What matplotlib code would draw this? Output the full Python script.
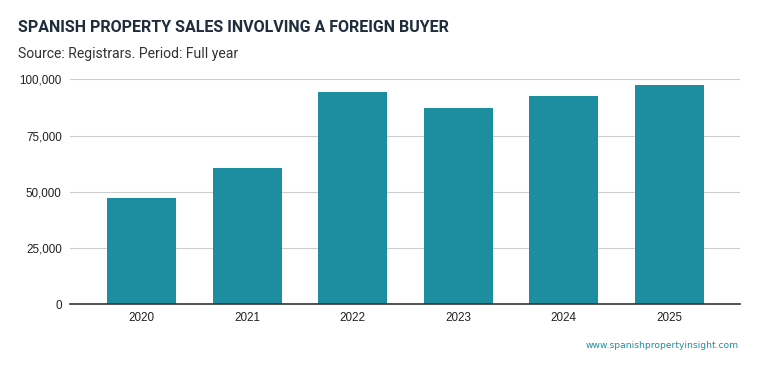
import matplotlib.pyplot as plt
from matplotlib.ticker import FuncFormatter

years = ["2020", "2021", "2022", "2023", "2024", "2025"]
sales = [47400, 60400, 94200, 87100, 92500, 97300]
yticks = [0, 25000, 50000, 75000, 100000]

bar_color = "#1d8ea0"

fig = plt.figure(figsize=(7.59, 3.71), dpi=100)
ax = fig.add_axes([70 / 759, 66.7 / 371, 670 / 759, 225 / 371])

x = range(len(years))
ax.bar(x, sales, width=0.654, color=bar_color, zorder=3)

ax.set_xlim(-0.68, 5.67)
ax.set_ylim(0, 100000)
ax.set_xticks(list(x), labels=years)
ax.set_yticks(yticks)
ax.yaxis.set_major_formatter(FuncFormatter(lambda v, _: f"{int(v):,}"))
ax.tick_params(length=0, labelsize=8.4, labelcolor="#222222")
ax.tick_params(axis="x", pad=5.5)
ax.tick_params(axis="y", pad=6)
for lab in ax.get_xticklabels() + ax.get_yticklabels():
    lab.set_family("Liberation Sans")

ax.grid(axis="y", color="#cccccc", linewidth=0.8, zorder=0)
for side in ["top", "right", "left"]:
    ax.spines[side].set_visible(False)
ax.spines["bottom"].set_color("#333333")
ax.spines["bottom"].set_linewidth(1.2)
ax.spines["bottom"].set_zorder(4)

fig.text(18 / 759, 1 - 28 / 371, "SPANISH PROPERTY SALES INVOLVING A FOREIGN BUYER",
         family="Roboto", weight="bold", fontsize=11.55, color="#1f2d3d",
         va="center", ha="left")
fig.text(18 / 759, 1 - 54 / 371, "Source: Registrars. Period: Full year",
         family="Roboto", fontsize=10.1, color="#333333", va="center", ha="left")
fig.text(739 / 759, 1 - 346 / 371, "www.spanishpropertyinsight.com",
         family="DejaVu Sans", fontsize=6.6, color=bar_color,
         va="center", ha="right")

fig.savefig("out.png", dpi=100)
